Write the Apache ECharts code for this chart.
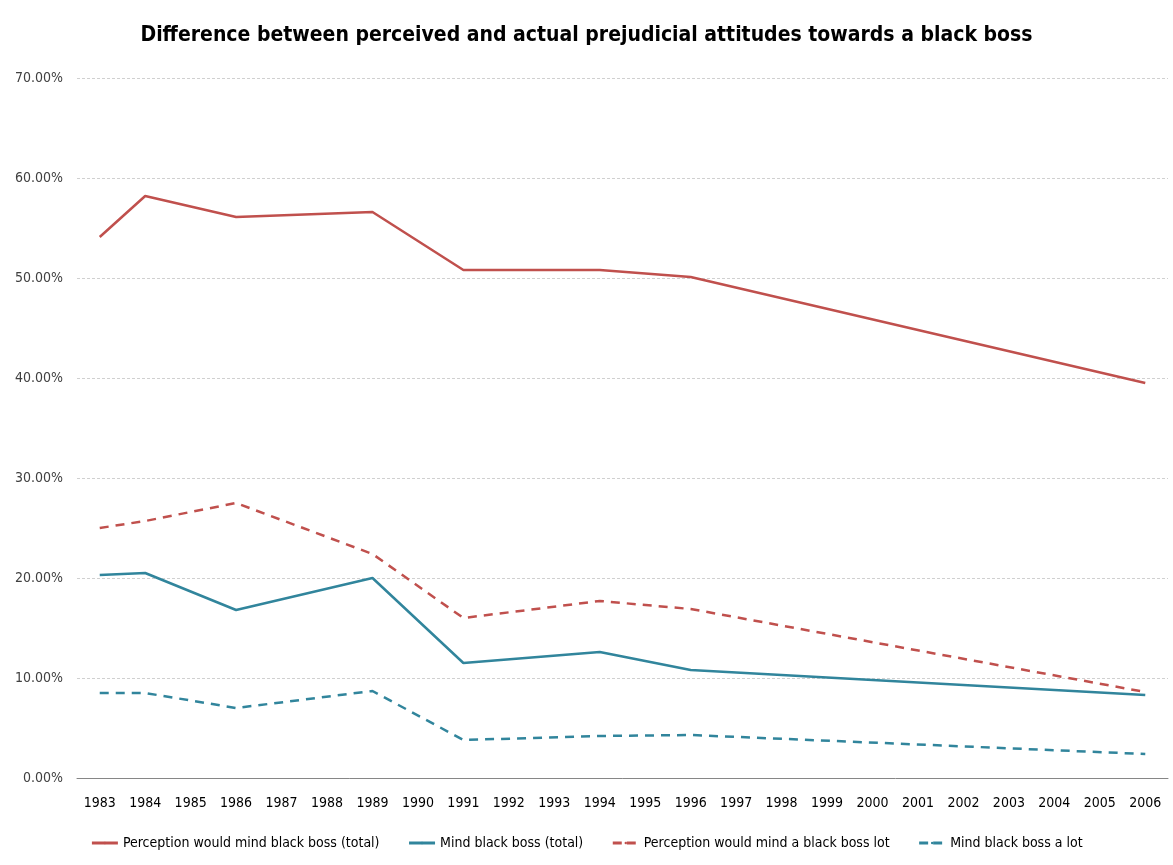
<!DOCTYPE html>
<html>
<head>
<meta charset="utf-8">
<script src="https://cdn.jsdelivr.net/npm/echarts@6/dist/echarts.min.js"></script>
<style>
    html, body { margin: 0; padding: 0; background: #fff; }
    #chart { width: 1173px; height: 865px; }
</style>
</head>
<body>
<div id="chart"></div>
<script>
    // years on the axis, survey values only on some of them
    const years = ['1983','1984','1985','1986','1987','1988','1989','1990','1991','1992','1993','1994',
        '1995','1996','1997','1998','1999','2000','2001','2002','2003','2004','2005','2006'];
    const surveyYears = ['1983','1984','1986','1989','1991','1994','1996','2006'];

    const perceivedTotal = [54.1, 58.2, 56.1, 56.6, 50.8, 50.8, 50.1, 39.5];
    const mindTotal      = [20.3, 20.5, 16.8, 20.0, 11.5, 12.6, 10.8, 8.3];
    const perceivedLot   = [25.0, 25.7, 27.5, 22.4, 16.0, 17.7, 16.9, 8.6];
    const mindLot        = [8.5, 8.5, 7.0, 8.7, 3.8, 4.2, 4.3, 2.4];

    const seriesNames = ['Perception would mind black boss (total)', 'Mind black boss (total)',
        'Perception would mind a black boss lot', 'Mind black boss a lot'];

    const yTicks = [0, 10, 20, 30, 40, 50, 60, 70];

    const red = '#c0504d';
    const teal = '#31859c';
    const font = '"Liberation Sans Narrow", "DejaVu Sans Condensed", "Liberation Sans", sans-serif';

    function toSeries(vals){
        return years.map(y => {
            let i = surveyYears.indexOf(y);
            return i >= 0 ? vals[i] : null;
        });
    }

    function line(name, vals, color, type){
        return {
            name: name,
            type: 'line',
            data: toSeries(vals),
            connectNulls: true,
            symbol: 'none',
            lineStyle: { color: color, width: 2.5, type: type },
            itemStyle: { color: color }
        };
    }

    let chart = echarts.init(document.getElementById('chart'));
    chart.setOption({
        animation: false,
        textStyle: { fontFamily: font },
        title: {
            text: 'Difference between perceived and actual prejudicial attitudes towards a black boss',
            left: 'center',
            top: 20,
            textStyle: { fontFamily: font, fontSize: 21, fontWeight: 'bold', color: '#000' }
        },
        grid: { left: 77, right: 5, top: 78, bottom: 87 },
        xAxis: {
            type: 'category',
            data: years,
            boundaryGap: true,
            axisTick: { show: false },
            axisLine: { lineStyle: { color: '#868686', width: 1 } },
            axisLabel: { color: '#000', fontSize: 14, margin: 18, interval: 0, fontFamily: font }
        },
        yAxis: {
            type: 'value',
            min: yTicks[0],
            max: yTicks[yTicks.length - 1],
            interval: 10,
            axisLine: { show: false },
            axisTick: { show: false },
            splitLine: { lineStyle: { color: '#d0d0d0', type: [3, 2] } },
            axisLabel: {
                color: '#404040', fontSize: 14, margin: 14, fontFamily: font,
                formatter: v => v.toFixed(2) + '%'
            }
        },
        legend: {
            bottom: 10,
            left: 'center',
            itemWidth: 26,
            itemHeight: 3,
            itemGap: 28,
            textStyle: { fontSize: 14, color: '#000', fontFamily: font },
            data: [
                { name: seriesNames[0], lineStyle: { width: 3 } },
                { name: seriesNames[1], lineStyle: { width: 3 } },
                { name: seriesNames[2], lineStyle: { type: [9, 5], width: 3 } },
                { name: seriesNames[3], lineStyle: { type: [9, 5], width: 3 } }
            ]
        },
        series: [
            line(seriesNames[0], perceivedTotal, red, 'solid'),
            line(seriesNames[1], mindTotal, teal, 'solid'),
            line(seriesNames[2], perceivedLot, red, [9, 7]),
            line(seriesNames[3], mindLot, teal, [9, 7])
        ]
    });
</script>
</body>
</html>
